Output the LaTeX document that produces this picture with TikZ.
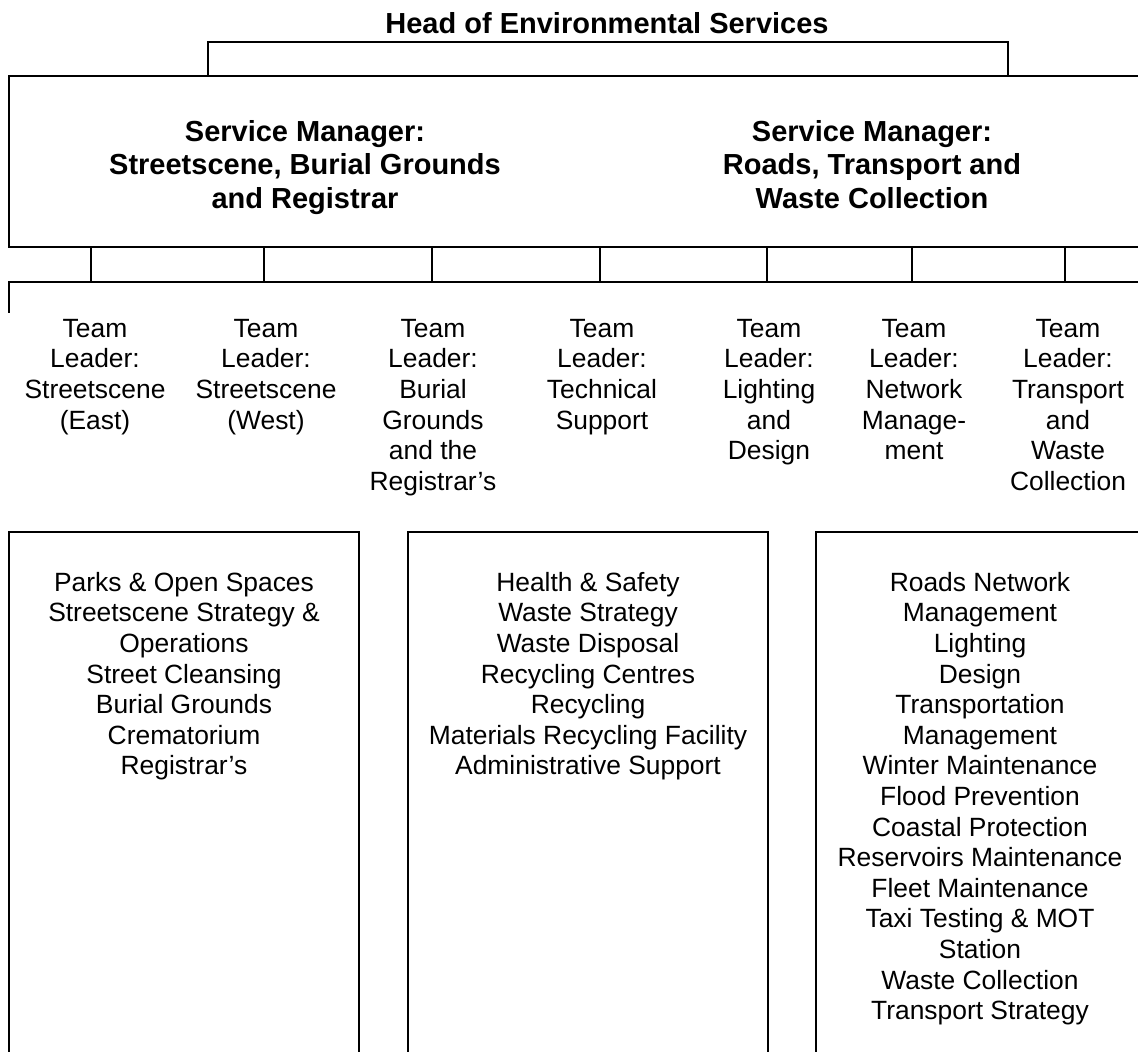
\documentclass[tikz,border=0pt]{standalone}
\usepackage{fontspec}
\setmainfont{Liberation Sans}
\usepackage{tikz}
\usetikzlibrary{calc}
\definecolor{ink}{HTML}{000000}
\tikzset{
  rule/.style={draw=ink, line width=1.4pt, line cap=rect, line join=miter},
  boss/.style={text=ink, font=\fontsize{29}{33.5}\selectfont\bfseries, align=center, inner sep=0pt, anchor=north},
  lead/.style={text=ink, font=\fontsize{26.4}{30.6}\selectfont, align=center, inner sep=0pt, anchor=north},
  duty/.style={text=ink, font=\fontsize{26.4}{30.6}\selectfont, align=center, inner sep=0pt, anchor=north},
}

\begin{document}
\begin{tikzpicture}[x=1pt,y=-1pt]
  \useasboundingbox (0,0) rectangle (1138,1052);
  \coordinate (bkL) at (208,76);
  \coordinate (bkR) at (1008,76);
  \coordinate (bandE) at (1150,76);
  \coordinate (bandW) at (9,247);
  \coordinate (barE) at (1150,282);
  \coordinate (barW) at (9,312);
  % head of service and the bracket below
  \node[boss] (head) at (607,12) {Head of Environmental Services};
  \draw[rule] (bkL) |- ($(bkR)+(0,-34)$) -- (bkR);
  % the two service managers share one open band
  \draw[rule] (bandE) -| (bandW) -- ++(1141,0);
  \node[boss] (smL) at (305,120) {Service Manager:\\Streetscene, Burial Grounds\\and Registrar};
  \node[boss] (smR) at (872,120) {Service Manager:\\Roads, Transport and\\Waste Collection};
  % bar feeding the team leaders
  \draw[rule] (barE) -| (barW);
  \foreach \x/\dx/\n/\t in {91/4/tlA/{Team\\Leader:\\Streetscene\\(East)},
                        264/2/tlB/{Team\\Leader:\\Streetscene\\(West)},
                        432/1/tlC/{Team\\Leader:\\Burial\\Grounds\\and the\\Registrar's},
                        600/2/tlD/{Team\\Leader:\\Technical\\Support},
                        767/2/tlE/{Team\\Leader:\\Lighting\\and\\Design},
                        912/2/tlF/{Team\\Leader:\\Network\\Manage-\\ment},
                        1065/3/tlG/{Team\\Leader:\\Transport\\and\\Waste\\Collection}}{
    \draw[rule] (\x,247) -- (\x,282);
    \node[lead] (\n) at (\x+\dx,319) {\t};
  }
  % duty boxes, open at the foot
  \draw[rule] (9,1060) |- (359,532) -- (359,1060);
  \draw[rule] (408,1060) |- (768,532) -- (768,1060);
  \draw[rule] (816,1060) |- (1150,532);
  \node[duty] (dA) at (184,572) {Parks \& Open Spaces\\Streetscene Strategy \&\\Operations\\Street Cleansing\\Burial Grounds\\Crematorium\\Registrar's};
  \node[duty] (dB) at (588,572) {Health \& Safety\\Waste Strategy\\Waste Disposal\\Recycling Centres\\Recycling\\Materials Recycling Facility\\Administrative Support};
  \node[duty] (dC) at (980,572) {Roads Network\\Management\\Lighting\\Design\\Transportation\\Management\\Winter Maintenance\\Flood Prevention\\Coastal Protection\\Reservoirs Maintenance\\Fleet Maintenance\\Taxi Testing \& MOT\\Station\\Waste Collection\\Transport Strategy};
\end{tikzpicture}
\end{document}
